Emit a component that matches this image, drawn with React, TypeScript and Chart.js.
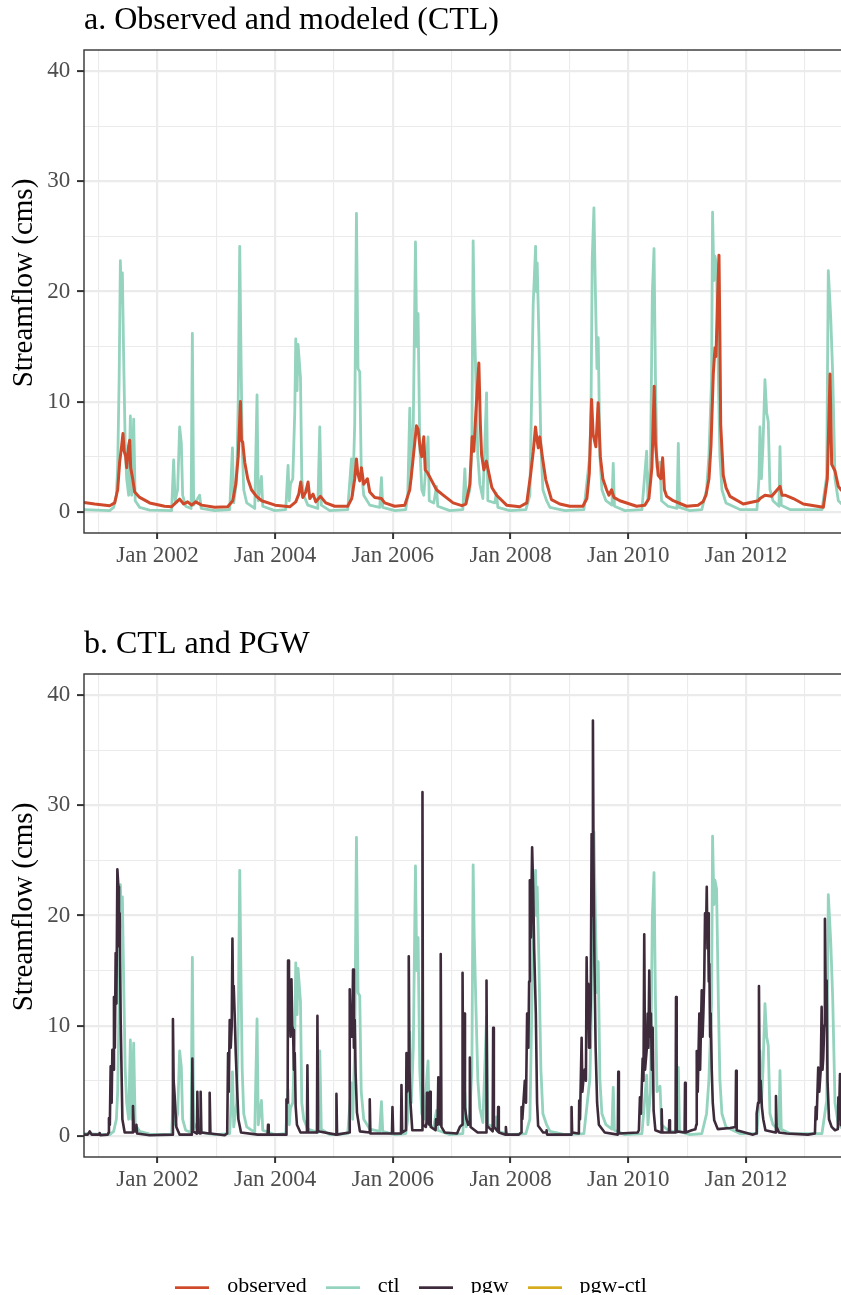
import React, { useEffect, useRef } from 'react';
import { Chart, registerables } from 'chart.js';

Chart.register(...registerables);

const SERIF = '"Liberation Serif", "Times New Roman", Times, serif';

// ---- axes ----
const X_MIN = 2000.752;
const X_MAX = 2013.75;
const Y_MIN = -1.93;
const Y_MAX = 41.93;

const xTickYears = [2001, 2002, 2003, 2004, 2005, 2006, 2007, 2008, 2009, 2010, 2011, 2012, 2013];
const xTickLabels = ['', 'Jan 2002', '', 'Jan 2004', '', 'Jan 2006', '', 'Jan 2008', '', 'Jan 2010', '', 'Jan 2012', ''];
const yTickValues = [0, 5, 10, 15, 20, 25, 30, 35, 40];
const yTickLabels = ['0', '', '10', '', '20', '', '30', '', '40'];

const panelTitles = ['a. Observed and modeled (CTL)', 'b. CTL and PGW'];
const yAxisTitle = 'Streamflow (cms)';

const seriesNames = ['observed', 'ctl', 'pgw', 'pgw-ctl'];
const seriesColors = ['#CF4A2B', '#94D3BD', '#3D2A3A', '#D6AC1E'];
const seriesWidths = [3.0, 2.8, 2.6, 2.6];

// ---- observed (decimal year, cms) ----
const observedYears = [
  2000.752, 2000.933, 2001.188, 2001.273, 2001.324, 2001.358, 2001.392, 2001.414, 2001.434, 2001.46,
  2001.477, 2001.511, 2001.528, 2001.545, 2001.579, 2001.613, 2001.698, 2001.868, 2002.122, 2002.241,
  2002.309, 2002.377, 2002.445, 2002.513, 2002.581, 2002.649, 2002.751, 2002.973, 2003.194, 2003.279,
  2003.33, 2003.372, 2003.41, 2003.427, 2003.449, 2003.483, 2003.534, 2003.597, 2003.682, 2003.772,
  2004.0, 2004.248, 2004.35, 2004.401, 2004.435, 2004.469, 2004.52, 2004.559, 2004.588, 2004.644,
  2004.69, 2004.77, 2004.86, 2005.012, 2005.233, 2005.301, 2005.352, 2005.381, 2005.403, 2005.437,
  2005.466, 2005.505, 2005.568, 2005.607, 2005.692, 2005.806, 2005.862, 2006.032, 2006.202, 2006.287,
  2006.338, 2006.401, 2006.428, 2006.469, 2006.491, 2006.525, 2006.55, 2006.593, 2006.661, 2006.741,
  2006.882, 2007.024, 2007.172, 2007.24, 2007.308, 2007.347, 2007.376, 2007.41, 2007.461, 2007.486,
  2007.507, 2007.546, 2007.588, 2007.619, 2007.682, 2007.762, 2007.932, 2008.156, 2008.275, 2008.343,
  2008.386, 2008.423, 2008.45, 2008.471, 2008.496, 2008.542, 2008.598, 2008.695, 2008.836, 2009.007,
  2009.228, 2009.296, 2009.338, 2009.376, 2009.403, 2009.449, 2009.488, 2009.525, 2009.568, 2009.631,
  2009.67, 2009.716, 2009.755, 2009.857, 2010.141, 2010.282, 2010.35, 2010.401, 2010.44, 2010.461,
  2010.508, 2010.554, 2010.583, 2010.614, 2010.651, 2010.763, 2010.991, 2011.184, 2011.269, 2011.32,
  2011.371, 2011.405, 2011.444, 2011.473, 2011.49, 2011.515, 2011.541, 2011.558, 2011.57, 2011.614,
  2011.66, 2011.728, 2011.954, 2012.209, 2012.238, 2012.323, 2012.436, 2012.578, 2012.612, 2012.663,
  2012.804, 2012.974, 2013.314, 2013.382, 2013.428, 2013.456, 2013.512, 2013.569, 2013.614, 2013.699,
  2013.75,
];
const observedFlow = [
  0.85, 0.7, 0.55, 0.8, 2.0, 4.5, 6.0, 7.1, 5.5, 5.0,
  4.0, 6.0, 6.5, 4.0, 3.0, 1.8, 1.3, 0.8, 0.5, 0.45,
  0.8, 1.15, 0.7, 0.9, 0.6, 0.9, 0.6, 0.4, 0.45, 1.0,
  2.5, 5.0, 10.0, 6.5, 6.3, 4.5, 3.0, 2.0, 1.4, 1.0,
  0.6, 0.45, 0.9, 1.6, 2.7, 1.3, 1.8, 2.7, 1.2, 1.6,
  0.9, 1.4, 0.8, 0.5, 0.5, 1.2, 3.0, 4.8, 3.5, 2.8,
  4.0, 2.5, 3.0, 1.8, 1.3, 1.2, 0.8, 0.5, 0.6, 2.0,
  4.5, 7.8, 7.5, 5.5, 5.0, 6.8, 3.8, 3.5, 2.8, 2.0,
  1.4, 0.8, 0.55, 0.7, 2.5, 6.8, 5.5, 9.0, 13.5, 8.0,
  5.2, 3.8, 4.6, 3.8, 2.2, 1.5, 0.6, 0.45, 0.8, 3.5,
  5.5, 7.7, 6.5, 5.8, 6.8, 4.9, 2.9, 1.1, 0.7, 0.5,
  0.5, 1.2, 3.5, 10.2, 7.0, 5.9, 9.9, 5.0, 3.0, 2.0,
  1.5, 2.0, 1.3, 1.0, 0.5, 0.6, 1.2, 4.0, 11.4, 6.2,
  3.3, 3.0, 4.9, 2.0, 1.4, 1.0, 0.5, 0.6, 0.9, 1.5,
  3.0, 6.0, 12.5, 14.9, 14.1, 19.0, 23.3, 15.0, 7.9, 3.3,
  2.2, 1.4, 0.7, 1.0, 1.2, 1.5, 1.4, 2.3, 1.5, 1.5,
  1.2, 0.7, 0.4, 3.0, 12.5, 4.3, 3.7, 2.3, 2.0, 1.5,
  1.3,
];

// ---- ctl (decimal year, cms) ----
const ctlYears = [
  2000.752, 2001.188, 2001.256, 2001.302, 2001.324, 2001.349, 2001.37, 2001.387, 2001.404, 2001.426,
  2001.452, 2001.477, 2001.511, 2001.54, 2001.562, 2001.596, 2001.622, 2001.698, 2001.868, 2002.241,
  2002.275, 2002.3, 2002.343, 2002.377, 2002.406, 2002.428, 2002.479, 2002.572, 2002.593, 2002.615,
  2002.717, 2002.743, 2002.973, 2003.228, 2003.274, 2003.296, 2003.347, 2003.372, 2003.398, 2003.418,
  2003.44, 2003.466, 2003.517, 2003.653, 2003.692, 2003.713, 2003.767, 2003.789, 2003.993, 2004.18,
  2004.219, 2004.24, 2004.26, 2004.299, 2004.333, 2004.35, 2004.372, 2004.389, 2004.43, 2004.452,
  2004.486, 2004.554, 2004.724, 2004.758, 2004.784, 2004.928, 2005.233, 2005.296, 2005.318, 2005.352,
  2005.381, 2005.408, 2005.437, 2005.462, 2005.505, 2005.607, 2005.777, 2005.806, 2005.828, 2006.032,
  2006.219, 2006.253, 2006.287, 2006.313, 2006.347, 2006.384, 2006.406, 2006.428, 2006.457, 2006.491,
  2006.525, 2006.598, 2006.618, 2006.695, 2006.741, 2006.763, 2006.967, 2007.189, 2007.223, 2007.248,
  2007.308, 2007.342, 2007.364, 2007.381, 2007.41, 2007.444, 2007.478, 2007.529, 2007.592, 2007.614,
  2007.733, 2007.758, 2007.784, 2007.988, 2008.26, 2008.328, 2008.384, 2008.425, 2008.438, 2008.452,
  2008.481, 2008.515, 2008.549, 2008.612, 2008.669, 2008.924, 2009.246, 2009.348, 2009.368, 2009.387,
  2009.416, 2009.441, 2009.467, 2009.489, 2009.518, 2009.552, 2009.62, 2009.722, 2009.744, 2009.765,
  2009.943, 2010.232, 2010.312, 2010.334, 2010.377, 2010.408, 2010.437, 2010.462, 2010.488, 2010.539,
  2010.565, 2010.675, 2010.828, 2010.85, 2010.87, 2011.046, 2011.25, 2011.33, 2011.369, 2011.415,
  2011.432, 2011.455, 2011.472, 2011.5, 2011.531, 2011.557, 2011.591, 2011.659, 2011.897, 2012.186,
  2012.22, 2012.237, 2012.262, 2012.288, 2012.322, 2012.351, 2012.378, 2012.407, 2012.458, 2012.56,
  2012.577, 2012.599, 2012.747, 2013.291, 2013.371, 2013.398, 2013.439, 2013.473, 2013.512, 2013.569,
  2013.683, 2013.751,
];
const ctlFlow = [
  0.2, 0.1, 0.4, 1.5, 4.0, 12.0, 22.8, 19.0, 21.7, 14.0,
  6.0, 3.0, 1.5, 8.7, 1.5, 8.4, 1.0, 0.4, 0.15, 0.1,
  4.7, 1.0, 2.0, 7.7, 6.2, 1.5, 0.5, 0.3, 16.2, 0.6,
  1.5, 0.3, 0.1, 0.2, 5.8, 0.8, 3.0, 10.0, 24.1, 15.0,
  6.0, 2.0, 0.8, 0.3, 10.6, 1.0, 3.2, 0.5, 0.1, 0.2,
  4.2, 1.0, 2.5, 3.0, 9.0, 15.7, 11.0, 15.2, 12.2, 3.0,
  1.5, 0.6, 0.3, 7.7, 0.6, 0.1, 0.2, 4.8, 1.5, 8.0,
  27.1, 13.0, 12.7, 4.0, 1.5, 0.6, 0.4, 3.1, 0.4, 0.1,
  0.2, 1.5, 9.4, 3.0, 8.0, 24.5, 15.0, 18.0, 6.0, 2.0,
  1.5, 6.8, 1.0, 0.8, 2.3, 0.5, 0.1, 0.2, 3.9, 0.8,
  2.0, 6.0, 24.6, 18.4, 12.0, 5.0, 2.5, 1.2, 10.8, 1.0,
  0.8, 1.7, 0.4, 0.1, 0.2, 1.5, 18.8, 24.1, 20.0, 22.6,
  16.0, 6.0, 2.0, 1.0, 0.4, 0.1, 0.2, 5.2, 10.0, 22.9,
  27.6, 20.0, 13.0, 15.8, 5.0, 2.0, 1.0, 0.6, 4.4, 0.5,
  0.1, 0.2, 5.5, 1.0, 4.0, 19.7, 23.9, 12.0, 4.0, 4.5,
  1.0, 0.5, 0.3, 6.2, 0.4, 0.1, 0.2, 2.0, 5.0, 12.0,
  27.2, 21.0, 23.2, 22.4, 12.0, 5.0, 2.0, 0.8, 0.2, 0.2,
  3.0, 7.7, 3.0, 6.0, 12.0, 9.0, 8.2, 2.0, 1.0, 0.5,
  5.9, 0.6, 0.2, 0.2, 3.2, 21.9, 17.7, 12.5, 3.0, 1.0,
  0.4, 0.3,
];

// ---- pgw (decimal year, cms) ----
const pgwYears = [
  2000.752, 2000.815, 2000.849, 2000.883, 2001.01, 2001.018, 2001.03, 2001.154, 2001.17, 2001.176,
  2001.191, 2001.205, 2001.222, 2001.234, 2001.247, 2001.261, 2001.276, 2001.29, 2001.303, 2001.319,
  2001.336, 2001.346, 2001.358, 2001.375, 2001.404, 2001.443, 2001.575, 2001.584, 2001.6, 2001.636,
  2001.642, 2001.655, 2001.868, 2002.25, 2002.263, 2002.275, 2002.292, 2002.321, 2002.377, 2002.585,
  2002.593, 2002.605, 2002.67, 2002.678, 2002.69, 2002.726, 2002.734, 2002.746, 2002.88, 2002.887,
  2002.9, 2003.143, 2003.185, 2003.2, 2003.212, 2003.228, 2003.245, 2003.262, 2003.274, 2003.285,
  2003.296, 2003.313, 2003.33, 2003.352, 2003.375, 2003.42, 2003.704, 2003.872, 2003.879, 2003.89,
  2004.185, 2004.192, 2004.212, 2004.219, 2004.235, 2004.248, 2004.262, 2004.277, 2004.29, 2004.304,
  2004.318, 2004.333, 2004.348, 2004.37, 2004.43, 2004.54, 2004.548, 2004.56, 2004.71, 2004.718,
  2004.73, 2005.034, 2005.041, 2005.052, 2005.255, 2005.267, 2005.282, 2005.296, 2005.31, 2005.323,
  2005.338, 2005.352, 2005.367, 2005.39, 2005.44, 2005.6, 2005.607, 2005.618, 2005.985, 2005.993,
  2006.005, 2006.138, 2006.146, 2006.158, 2006.222, 2006.231, 2006.245, 2006.262, 2006.27, 2006.283,
  2006.299, 2006.33, 2006.495, 2006.503, 2006.513, 2006.56, 2006.572, 2006.58, 2006.592, 2006.622,
  2006.631, 2006.643, 2006.725, 2006.733, 2006.76, 2006.772, 2006.785, 2006.805, 2006.813, 2006.825,
  2006.88, 2007.09, 2007.138, 2007.176, 2007.184, 2007.195, 2007.211, 2007.225, 2007.25, 2007.28,
  2007.3, 2007.308, 2007.32, 2007.44, 2007.583, 2007.591, 2007.603, 2007.696, 2007.704, 2007.716,
  2007.782, 2007.789, 2007.8, 2007.915, 2007.92, 2007.93, 2008.141, 2008.18, 2008.186, 2008.2,
  2008.242, 2008.262, 2008.281, 2008.302, 2008.315, 2008.327, 2008.345, 2008.366, 2008.383, 2008.4,
  2008.429, 2008.45, 2008.468, 2008.553, 2008.605, 2008.611, 2008.62, 2009.03, 2009.036, 2009.046,
  2009.16, 2009.166, 2009.18, 2009.207, 2009.22, 2009.234, 2009.26, 2009.28, 2009.292, 2009.305,
  2009.319, 2009.334, 2009.348, 2009.362, 2009.377, 2009.388, 2009.399, 2009.41, 2009.425, 2009.445,
  2009.47, 2009.5, 2009.6, 2009.822, 2009.83, 2009.84, 2010.16, 2010.18, 2010.198, 2010.215,
  2010.244, 2010.258, 2010.271, 2010.285, 2010.3, 2010.316, 2010.329, 2010.342, 2010.356, 2010.37,
  2010.385, 2010.4, 2010.414, 2010.43, 2010.46, 2010.56, 2010.567, 2010.578, 2010.69, 2010.697,
  2010.708, 2010.803, 2010.811, 2010.822, 2010.957, 2010.964, 2010.975, 2011.078, 2011.14, 2011.155,
  2011.163, 2011.18, 2011.207, 2011.22, 2011.248, 2011.262, 2011.275, 2011.29, 2011.304, 2011.32,
  2011.333, 2011.345, 2011.355, 2011.367, 2011.377, 2011.39, 2011.401, 2011.418, 2011.435, 2011.46,
  2011.52, 2011.729, 2011.822, 2011.831, 2011.842, 2012.119, 2012.17, 2012.181, 2012.205, 2012.22,
  2012.232, 2012.249, 2012.27, 2012.293, 2012.33, 2012.5, 2012.509, 2012.52, 2012.56, 2012.691,
  2013.052, 2013.171, 2013.185, 2013.2, 2013.227, 2013.245, 2013.27, 2013.285, 2013.3, 2013.312,
  2013.33, 2013.341, 2013.355, 2013.37, 2013.385, 2013.41, 2013.455, 2013.512, 2013.56, 2013.569,
  2013.58, 2013.597, 2013.61, 2013.648, 2013.75,
];
const pgwFlow = [
  0.1, 0.1, 0.4, 0.1, 0.1, 0.25, 0.05, 0.1, 0.3, 1.6,
  1.0, 6.3, 3.0, 7.8, 6.0, 12.6, 8.0, 16.6, 12.0, 24.2,
  22.6, 17.2, 20.2, 10.5, 1.5, 0.3, 0.3, 2.7, 0.4, 0.4,
  1.0, 0.2, 0.05, 0.1, 10.6, 5.0, 3.6, 0.8, 0.1, 0.1,
  7.0, 0.4, 0.2, 4.0, 0.3, 0.2, 4.0, 0.3, 0.2, 3.9,
  0.2, 0.05, 0.2, 7.5, 4.0, 10.5, 8.0, 10.0, 17.9, 12.0,
  13.6, 10.8, 7.5, 4.5, 1.5, 0.3, 0.1, 0.1, 1.0, 0.1,
  0.1, 3.3, 3.0, 15.9, 10.0, 12.6, 9.0, 14.2, 10.0, 9.6,
  6.0, 7.5, 2.7, 1.0, 0.3, 0.3, 6.4, 0.3, 0.3, 10.9,
  0.4, 0.1, 3.8, 0.1, 0.3, 13.3, 9.0, 11.8, 9.0, 15.1,
  8.0, 10.5, 5.7, 2.1, 0.4, 0.3, 3.3, 0.2, 0.2, 2.6,
  0.2, 0.2, 4.6, 0.3, 0.5, 7.5, 4.0, 5.0, 16.3, 6.0,
  3.0, 0.5, 0.5, 31.2, 1.0, 0.8, 1.2, 3.9, 1.2, 1.0,
  4.0, 0.8, 0.5, 1.5, 1.0, 5.3, 1.5, 1.0, 16.5, 0.8,
  0.3, 0.2, 0.8, 1.0, 14.8, 4.0, 11.1, 2.6, 1.5, 1.0,
  1.2, 7.1, 0.8, 0.3, 0.3, 14.1, 0.9, 0.4, 9.8, 0.8,
  0.4, 2.6, 0.3, 0.1, 0.8, 0.1, 0.1, 0.3, 2.6, 1.5,
  5.0, 3.0, 11.1, 8.0, 14.0, 23.2, 18.0, 26.2, 22.6, 17.1,
  11.1, 3.0, 0.9, 0.3, 0.3, 0.5, 0.1, 0.1, 2.6, 0.3,
  0.2, 3.2, 1.5, 8.9, 4.0, 4.9, 6.0, 5.0, 16.2, 10.0,
  13.8, 8.0, 9.5, 12.0, 27.4, 20.0, 37.7, 24.4, 15.6, 8.0,
  3.0, 1.0, 0.3, 0.1, 5.8, 0.2, 0.3, 0.5, 3.5, 2.0,
  7.0, 5.0, 18.3, 6.0, 6.0, 8.0, 11.1, 8.0, 15.0, 9.0,
  11.1, 6.0, 9.8, 2.3, 0.5, 0.3, 2.4, 0.3, 0.3, 1.4,
  0.3, 0.3, 12.6, 0.4, 0.3, 4.8, 0.3, 0.5, 0.6, 1.0,
  7.7, 4.0, 11.1, 6.0, 13.2, 9.0, 11.0, 14.0, 20.2, 18.0,
  22.6, 17.0, 20.2, 14.0, 15.6, 9.0, 11.1, 6.0, 3.0, 1.4,
  0.6, 0.7, 0.8, 5.9, 0.5, 0.1, 0.2, 2.0, 3.0, 13.6,
  5.0, 5.0, 2.6, 1.5, 0.5, 0.3, 3.6, 0.8, 0.3, 0.2,
  0.1, 0.2, 2.6, 1.5, 6.2, 4.0, 6.0, 11.7, 6.0, 7.0,
  10.0, 19.7, 12.0, 14.1, 5.0, 1.5, 0.8, 0.5, 0.6, 3.5,
  1.5, 5.6, 1.0, 0.8, 0.3,
];

const toPoints = (xs: number[], ys: number[]) => xs.map((x, i) => ({ x, y: ys[i] }));

const lineDataset = (idx: number, xs: number[], ys: number[]) => ({
  label: seriesNames[idx],
  data: toPoints(xs, ys),
  parsing: false,
  borderColor: seriesColors[idx],
  backgroundColor: seriesColors[idx],
  borderWidth: seriesWidths[idx],
  borderJoinStyle: 'round',
  pointRadius: 0,
  pointHoverRadius: 0,
  tension: 0,
  fill: false,
});

const panelPlugin = {
  id: 'panelDecor',
  afterDraw(chart: any, _args: any, opts: any) {
    const { ctx, chartArea } = chart;
    ctx.save();
    // panel border
    ctx.strokeStyle = '#333333';
    ctx.lineWidth = 1.4;
    ctx.strokeRect(chartArea.left, chartArea.top, chartArea.right - chartArea.left, chartArea.bottom - chartArea.top);
    // panel title
    ctx.fillStyle = '#000000';
    ctx.font = `32px ${SERIF}`;
    ctx.textAlign = 'left';
    ctx.textBaseline = 'alphabetic';
    ctx.fillText(opts.text, chartArea.left, chartArea.top - 21);
    // y axis title
    ctx.translate(23.9, (chartArea.top + chartArea.bottom) / 2 - 8.5);
    ctx.rotate(-Math.PI / 2);
    ctx.font = `29px ${SERIF}`;
    ctx.textAlign = 'center';
    ctx.textBaseline = 'middle';
    ctx.fillText(opts.yTitle, 0, 0);
    ctx.restore();
  },
};

const isMajorX = (c: any) => c.tick && Math.round(c.tick.value) % 2 === 0;
const isMajorY = (c: any) => c.tick && Math.round(c.tick.value) % 10 === 0;

const panelConfig = (title: string, datasets: any[]) => ({
  type: 'line',
  data: { datasets },
  plugins: [panelPlugin],
  options: {
    animation: false,
    responsive: false,
    events: [],
    layout: { padding: { top: 50, left: 0, right: 11, bottom: 0 } },
    plugins: {
      legend: { display: false },
      title: { display: false },
      tooltip: { enabled: false },
      panelDecor: { text: title, yTitle: yAxisTitle },
    },
    scales: {
      x: {
        type: 'linear',
        min: X_MIN,
        max: X_MAX,
        afterBuildTicks: (s: any) => {
          s.ticks = xTickYears.map((v) => ({ value: v }));
        },
        afterFit: (s: any) => {
          s.height = 50;
        },
        ticks: {
          autoSkip: false,
          maxRotation: 0,
          minRotation: 0,
          padding: 3,
          color: '#4d4d4d',
          font: { family: SERIF, size: 23 },
          callback: (_v: any, i: number) => xTickLabels[i] ?? '',
        },
        grid: {
          color: '#ebebeb',
          lineWidth: (c: any) => (isMajorX(c) ? 2.2 : 1.1),
          tickLength: 6,
          tickWidth: 2,
          tickColor: (c: any) => (isMajorX(c) ? '#333333' : 'rgba(0,0,0,0)'),
        },
        border: { display: false },
      },
      y: {
        type: 'linear',
        min: Y_MIN,
        max: Y_MAX,
        afterBuildTicks: (s: any) => {
          s.ticks = yTickValues.map((v) => ({ value: v }));
        },
        afterFit: (s: any) => {
          s.width = 84;
        },
        ticks: {
          autoSkip: false,
          padding: 6.7,
          color: '#4d4d4d',
          font: { family: SERIF, size: 23 },
          callback: (_v: any, i: number) => yTickLabels[i] ?? '',
        },
        grid: {
          color: '#ebebeb',
          lineWidth: (c: any) => (isMajorY(c) ? 2.2 : 1.1),
          tickLength: 7,
          tickWidth: 2,
          tickColor: (c: any) => (isMajorY(c) ? '#333333' : 'rgba(0,0,0,0)'),
        },
        border: { display: false },
        title: { display: false },
      },
    },
  },
});

const makeSwatch = (color: string) => {
  const c = document.createElement('canvas');
  c.width = 34;
  c.height = 6;
  const g = c.getContext('2d');
  if (g) {
    g.fillStyle = color;
    g.fillRect(0, 3.3, 34, 2.7);
  }
  return c;
};

export default function App() {
  const aRef = useRef<HTMLCanvasElement>(null);
  const bRef = useRef<HTMLCanvasElement>(null);
  const lRef = useRef<HTMLCanvasElement>(null);

  useEffect(() => {
    Chart.defaults.font.family = SERIF;
    const chartA = new Chart(aRef.current as any, panelConfig(panelTitles[0], [
      lineDataset(0, observedYears, observedFlow),
      lineDataset(1, ctlYears, ctlFlow),
    ]) as any);
    const chartB = new Chart(bRef.current as any, panelConfig(panelTitles[1], [
      lineDataset(2, pgwYears, pgwFlow),
      lineDataset(1, ctlYears, ctlFlow),
    ]) as any);

    const legendItems = seriesNames.map((name, i) => ({
      text: name,
      fillStyle: seriesColors[i],
      strokeStyle: seriesColors[i],
      lineWidth: 0,
      pointStyle: makeSwatch(seriesColors[i]),
      hidden: false,
      datasetIndex: i,
      fontColor: '#000000',
    }));
    const legendChart = new Chart(lRef.current as any, {
      type: 'line',
      data: { datasets: seriesNames.map((name, i) => ({ label: name, data: [], borderColor: seriesColors[i] })) },
      options: {
        animation: false,
        responsive: false,
        events: [],
        layout: { padding: 0 },
        scales: { x: { display: false }, y: { display: false } },
        plugins: {
          tooltip: { enabled: false },
          legend: {
            display: true,
            position: 'top',
            labels: {
              usePointStyle: true,
              pointStyleWidth: 48,
              padding: 12,
              color: '#000000',
              font: { family: SERIF, size: 22 },
              generateLabels: () => legendItems,
            },
          },
        },
      },
    } as any);

    return () => {
      chartA.destroy();
      chartB.destroy();
      legendChart.destroy();
    };
  }, []);

  return (
    <div style={{ position: 'fixed', left: 0, top: 0, width: 841, height: 1295, overflow: 'hidden', background: '#ffffff' }}>
      <canvas ref={aRef} width={860} height={583} style={{ position: 'absolute', left: 0, top: 0, width: 860, height: 583 }} />
      <canvas ref={bRef} width={860} height={583} style={{ position: 'absolute', left: 0, top: 624, width: 860, height: 583 }} />
      <canvas ref={lRef} width={815} height={60} style={{ position: 'absolute', left: 0, top: 1263, width: 815, height: 60 }} />
    </div>
  );
}
